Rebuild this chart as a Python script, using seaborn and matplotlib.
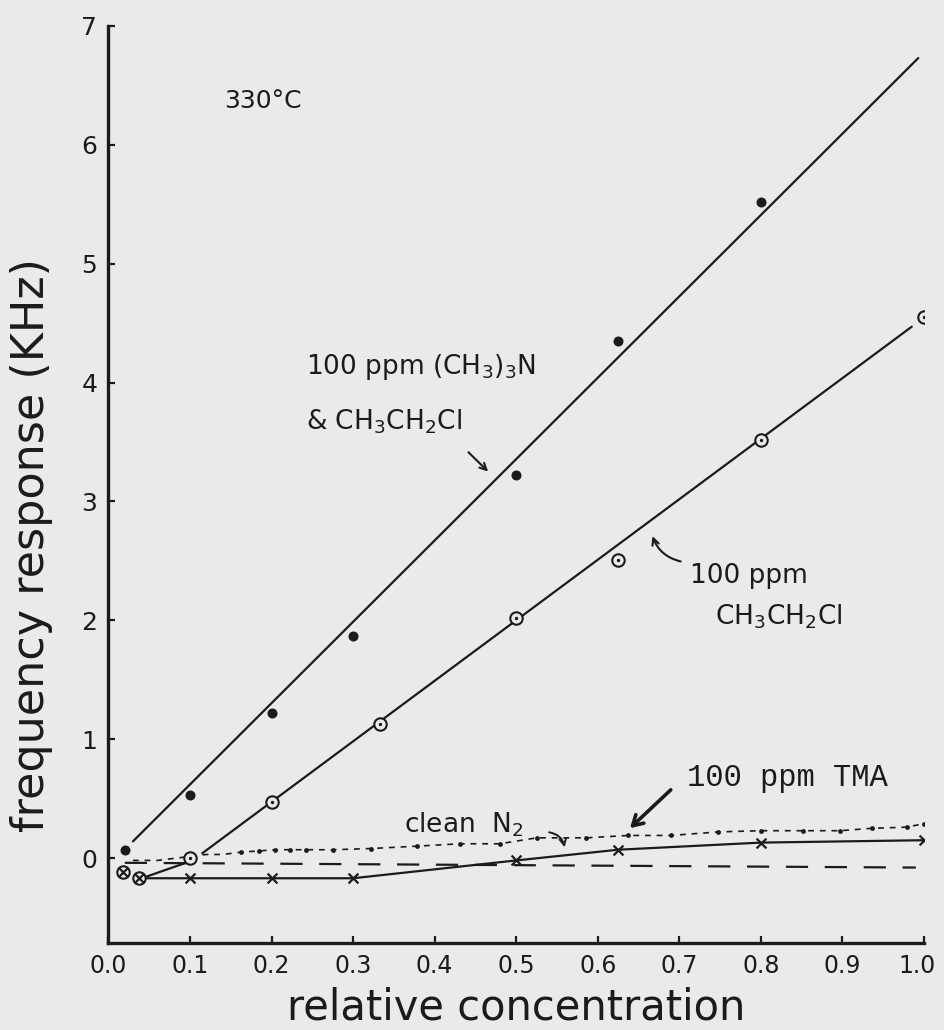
import numpy as np
import pandas as pd
import matplotlib
matplotlib.use("Agg")
import matplotlib.pyplot as plt
import matplotlib.transforms as mtransforms
import seaborn as sns

# ---------------- data ----------------
# 100 ppm (CH3)3N & CH3CH2Cl  (filled dots) + hand-drawn straight line
mix_x = [0.02, 0.1, 0.2, 0.3, 0.5, 0.625, 0.8]
mix_y = [0.07, 0.53, 1.22, 1.87, 3.22, 4.35, 5.52]
mix_line_x = [0.03, 0.993]
mix_line_y = [0.14, 6.73]

# 100 ppm CH3CH2Cl (dotted circles) + straight line
ecl_x = [0.018, 0.038, 0.1, 0.2, 0.333, 0.5, 0.625, 0.8, 1.0]
ecl_y = [-0.12, -0.17, 0.0, 0.47, 1.13, 2.02, 2.51, 3.52, 4.55]
ecl_link_x = [0.045, 0.095]
ecl_link_y = [-0.16, -0.04]
ecl_line_x = [0.115, 0.985]
ecl_line_y = [0.04, 4.47]

# crosses (solid line)
crs_x = [0.018, 0.038, 0.1, 0.2, 0.3, 0.5, 0.625, 0.8, 1.0]
crs_y = [-0.12, -0.17, -0.17, -0.17, -0.17, -0.02, 0.07, 0.13, 0.15]

# small dots with short dashes (TMA)
tma_x = [0.03, 0.06, 0.12, 0.14, 0.163, 0.185, 0.204, 0.222, 0.242, 0.275,
         0.322, 0.378, 0.431, 0.48, 0.525, 0.586, 0.637, 0.69, 0.748, 0.80,
         0.852, 0.897, 0.936, 0.979, 1.0]
tma_y = [-0.02, -0.02, 0.03, 0.03, 0.05, 0.06, 0.07, 0.07, 0.07, 0.07,
         0.08, 0.10, 0.12, 0.12, 0.17, 0.17, 0.19, 0.19, 0.22, 0.23,
         0.23, 0.23, 0.25, 0.26, 0.29]
tma_dot_from = 4  # first few are only specks of the dashed line

# long-dashed baseline
base_x = [0.02, 0.99]
base_y = [-0.04, -0.08]

x_ticks = [0.0, 0.1, 0.2, 0.3, 0.4, 0.5, 0.6, 0.7, 0.8, 0.9, 1.0]
x_tick_labels = ["0.0", "0.1", "0.2", "0.3", "0.4", "0.5", "0.6", "0.7", "0.8", "0.9", "1.0"]
y_ticks = [0, 1, 2, 3, 4, 5, 6, 7]
y_tick_labels = ["0", "1", "2", "3", "4", "5", "6", "7"]

# ---------------- style ----------------
BG = "#eaeaea"
INK = "#1b1b1b"
sns.set_theme(style="ticks")
plt.rcParams["font.family"] = ["DejaVu Sans"]
plt.rcParams["mathtext.default"] = "regular"

fig = plt.figure(figsize=(9.44, 10.30), dpi=100, facecolor=BG)
ax = fig.add_axes([0.1149, 0.0842, 0.8639, 0.8906])
ax.set_facecolor(BG)

LW = 1.6

# lines
sns.lineplot(x=mix_line_x, y=mix_line_y, ax=ax, color=INK, lw=LW, sort=False, estimator=None)
sns.lineplot(x=ecl_line_x, y=ecl_line_y, ax=ax, color=INK, lw=LW, sort=False, estimator=None)
sns.lineplot(x=ecl_link_x, y=ecl_link_y, ax=ax, color=INK, lw=LW, sort=False, estimator=None)
sns.lineplot(x=crs_x[1:], y=crs_y[1:], ax=ax, color=INK, lw=LW, sort=False, estimator=None)
sns.lineplot(x=tma_x, y=tma_y, ax=ax, color=INK, lw=1.2, sort=False, estimator=None,
             linestyle=(0, (3.5, 3.5)))
sns.lineplot(x=base_x, y=base_y, ax=ax, color=INK, lw=LW, sort=False, estimator=None,
             linestyle=(0, (10, 7.5)))

# markers
sns.scatterplot(x=mix_x, y=mix_y, ax=ax, color=INK, s=52, marker="o", linewidth=0, zorder=5)
sns.scatterplot(x=ecl_x, y=ecl_y, ax=ax, marker="o", s=80, facecolor=BG,
                edgecolor=INK, linewidth=1.5, zorder=5)
sns.scatterplot(x=ecl_x, y=ecl_y, ax=ax, marker="o", s=6, color=INK, linewidth=0, zorder=6)
sns.scatterplot(x=crs_x, y=crs_y, ax=ax, marker="x", s=50, color=INK, linewidth=1.6, zorder=6)
sns.scatterplot(x=tma_x[tma_dot_from:], y=tma_y[tma_dot_from:], ax=ax, marker="o", s=12,
                color=INK, linewidth=0, zorder=5)

# axes
ax.set_xlim(0.0, 1.0)
ax.set_ylim(-0.717, 7.0)
ax.set_xticks(x_ticks)
ax.set_xticklabels(x_tick_labels)
ax.set_yticks(y_ticks)
ax.set_yticklabels(y_tick_labels)
ax.tick_params(direction="in", length=5, width=1.6, colors=INK, labelsize=17, pad=8)
ax.tick_params(axis="y", labelsize=18)
sns.despine(ax=ax)
for s in ("left", "bottom"):
    ax.spines[s].set_linewidth(2.4)
    ax.spines[s].set_color(INK)
ax.grid(False)

# keep the last x tick label inside the figure (as in the reference)
last = ax.get_xticklabels()[-1]
last.set_transform(last.get_transform() +
                   mtransforms.ScaledTranslation(-5 / 72, 0, fig.dpi_scale_trans))

ax.set_xlabel("relative concentration", fontsize=30, color=INK, labelpad=6)
ax.set_ylabel("frequency response (KHz)", fontsize=32, color=INK)
ax.yaxis.set_label_coords(-0.068, 0.434)

# annotations
ax.text(0.142, 6.37, "330°C", fontsize=18, color=INK, va="center", ha="left")
ax.text(0.242, 4.13, r"100 ppm (CH$_3$)$_3$N", fontsize=19, color=INK, va="center", ha="left")
ax.text(0.242, 3.67, r"& CH$_3$CH$_2$Cl", fontsize=19, color=INK, va="center", ha="left")
ax.annotate("", xy=(0.468, 3.235), xytext=(0.439, 3.43),
            arrowprops=dict(arrowstyle="->", lw=1.5, color=INK))

ax.text(0.713, 2.37, "100 ppm", fontsize=19, color=INK, va="center", ha="left")
ax.text(0.744, 2.03, r"CH$_3$CH$_2$Cl", fontsize=19, color=INK, va="center", ha="left")
ax.annotate("", xy=(0.666, 2.73), xytext=(0.705, 2.49),
            arrowprops=dict(arrowstyle="->", lw=1.5, color=INK,
                            connectionstyle="arc3,rad=-0.3"))

ax.text(0.709, 0.67, "100 ppm TMA", fontsize=22, color=INK, va="center", ha="left",
        family="Liberation Mono")
ax.annotate("", xy=(0.637, 0.235), xytext=(0.692, 0.59),
            arrowprops=dict(arrowstyle="->,head_length=0.6,head_width=0.35", lw=2.6, color=INK))

ax.text(0.363, 0.28, r"clean  N$_2$", fontsize=19, color=INK, va="center", ha="left")
ax.annotate("", xy=(0.56, 0.067), xytext=(0.537, 0.22),
            arrowprops=dict(arrowstyle="->", lw=1.4, color=INK,
                            connectionstyle="arc3,rad=-0.4"))

fig.savefig("out.png", dpi=100, facecolor=BG)
